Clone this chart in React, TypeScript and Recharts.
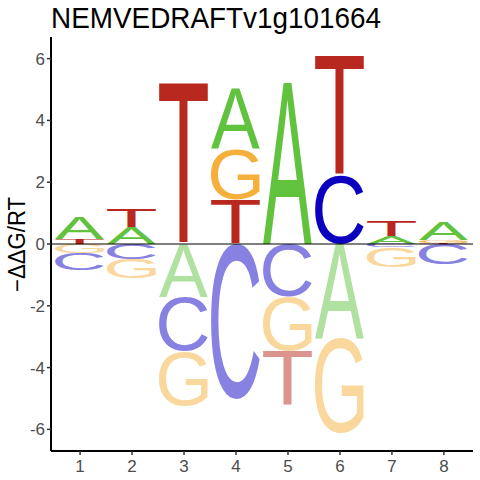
import React from "react";
import {
  BarChart,
  Bar,
  XAxis,
  YAxis,
  ReferenceLine,
} from "recharts";

const positions = [1, 2, 3, 4, 5, 6, 7, 8];

// letters above zero, bottom to top
const upLetters = [
  ["T", "A"],
  ["A", "T"],
  ["T"],
  ["T", "G", "A"],
  ["A"],
  ["C", "T"],
  ["A", "T"],
  ["T", "G", "A"],
];
const upHeights = [
  [0.15, 0.72],
  [0.53, 0.59],
  [5.21],
  [1.44, 1.62, 1.94],
  [5.21],
  [2.22, 3.86],
  [0.26, 0.48],
  [0.04, 0.08, 0.57],
];

// letters below zero, nearest zero first
const downLetters = [
  ["G", "C"],
  ["C", "G"],
  ["A", "C", "G"],
  ["C"],
  ["C", "G", "T"],
  ["A", "G"],
  ["C", "G"],
  ["C"],
];
const downHeights = [
  [0.31, 0.55],
  [0.5, 0.62],
  [1.7, 1.76, 1.76],
  [5.02],
  [1.71, 1.76, 1.75],
  [3.06, 3.06],
  [0.11, 0.63],
  [0.67],
];

const yTicks = [-6, -4, -2, 0, 2, 4, 6];

const UP_COLORS: Record<string, string> = {
  A: "#61c23e",
  C: "#0c00c0",
  G: "#f5b03c",
  T: "#b9281e",
};
const DOWN_COLORS: Record<string, string> = {
  A: "#b0e1a0",
  C: "#8782e1",
  G: "#fad89d",
  T: "#dc948f",
};

const LAYERS = [0, 1, 2];

const rows = positions.map((pos, i) => {
  const r: any = { pos };
  LAYERS.forEach((k) => {
    r[`u${k}`] = upHeights[i][k] ?? 0;
    r[`ul${k}`] = upLetters[i][k];
    r[`d${k}`] = -(downHeights[i][k] ?? 0);
    r[`dl${k}`] = downLetters[i][k];
  });
  return r;
});

// ink box of each glyph, measured once
const GLYPH_FONT = "Liberation Sans";
const metrics: Record<string, { left: number; width: number; ascent: number; height: number }> = {};
function glyph(ch: string) {
  if (metrics[ch]) return metrics[ch];
  let m = { left: 2, width: 58, ascent: 71, height: 72 };
  try {
    const ctx = document.createElement("canvas").getContext("2d");
    if (ctx) {
      ctx.font = `400 100px "${GLYPH_FONT}"`;
      const t = ctx.measureText(ch);
      m = {
        left: -t.actualBoundingBoxLeft,
        width: t.actualBoundingBoxLeft + t.actualBoundingBoxRight,
        ascent: t.actualBoundingBoxAscent,
        height: t.actualBoundingBoxAscent + t.actualBoundingBoxDescent,
      };
    }
  } catch (e) {}
  metrics[ch] = m;
  return m;
}

function letterShape(key: string, colors: Record<string, string>) {
  return (props: any) => {
    const { x, y, width, height, payload } = props;
    const letter = payload?.[key];
    if (!letter || !height) return <g />;
    const top = Math.min(y, y + height);
    const h = Math.abs(height);
    const g = glyph(letter);
    const sx = width / g.width;
    const sy = h / g.height;
    const tx = x - g.left * sx;
    const ty = top + g.ascent * sy;
    return (
      <text
        x={0}
        y={0}
        fontFamily={GLYPH_FONT}
        fontWeight={400}
        fontSize={100}
        fill={colors[letter]}
        transform={`translate(${tx},${ty}) scale(${sx},${sy})`}
      >
        {letter}
      </text>
    );
  };
}

const TICK = { fill: "#4d4d4d", fontSize: 17, fontFamily: "Liberation Sans" };

export default function App() {
  return (
    <div
      style={{
        position: "absolute",
        left: 0,
        top: 0,
        width: 480,
        height: 480,
        background: "#fff",
      }}
    >
      <BarChart
        width={480}
        height={480}
        data={rows}
        stackOffset="sign"
        margin={{ top: 37, right: 7, left: 0, bottom: 0 }}
      >
        <XAxis
          type="number"
          dataKey="pos"
          domain={[0.44, 8.56]}
          ticks={positions}
          interval={0}
          height={29}
          tickSize={4}
          tickMargin={5}
          tick={TICK}
          axisLine={{ stroke: "#000", strokeWidth: 2 }}
          tickLine={{ stroke: "#333", strokeWidth: 1.5 }}
        />
        <YAxis
          type="number"
          domain={[-6.7, 6.7]}
          ticks={yTicks}
          interval={0}
          width={51}
          tickSize={4}
          tickMargin={2}
          tick={TICK}
          axisLine={{ stroke: "#000", strokeWidth: 2 }}
          tickLine={{ stroke: "#333", strokeWidth: 1.5 }}
        />
        {LAYERS.map((k) => (
          <Bar
            key={`u${k}`}
            dataKey={`u${k}`}
            stackId="logo"
            barSize={49}
            isAnimationActive={false}
            shape={letterShape(`ul${k}`, UP_COLORS)}
          />
        ))}
        {LAYERS.map((k) => (
          <Bar
            key={`d${k}`}
            dataKey={`d${k}`}
            stackId="logo"
            barSize={49}
            isAnimationActive={false}
            shape={letterShape(`dl${k}`, DOWN_COLORS)}
          />
        ))}
        <ReferenceLine y={0} stroke="#000" strokeWidth={1} />
      </BarChart>
      <svg
        width={480}
        height={480}
        style={{ position: "absolute", left: 0, top: 0, pointerEvents: "none" }}
      >
        <text
          x={51}
          y={28}
          fontFamily="Liberation Sans"
          fontSize={30}
          textLength={330}
          lengthAdjust="spacingAndGlyphs"
          fill="#000"
        >
          NEMVEDRAFTv1g101664
        </text>
        <text
          transform="translate(25,244.5) rotate(-90)"
          textAnchor="middle"
          fontFamily="Liberation Sans"
          fontSize={23}
          textLength={95}
          lengthAdjust="spacingAndGlyphs"
          fill="#000"
        >
          −ΔΔG/RT
        </text>
      </svg>
    </div>
  );
}
